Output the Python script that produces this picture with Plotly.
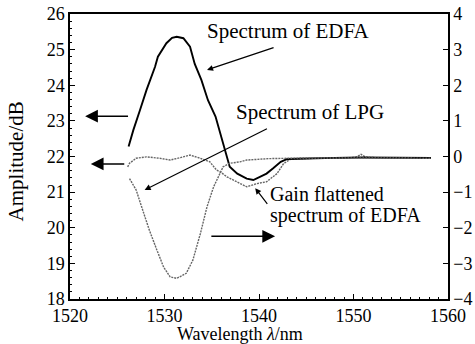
import plotly.graph_objects as go

# ---- data ----
edfa_wl = [1526.2, 1526.7, 1527.4, 1528.1, 1529.0, 1529.3, 1530.2, 1530.8, 1531.3, 1532.0,
           1532.7, 1533.2, 1533.9, 1534.6, 1535.4, 1535.9, 1536.4, 1536.9, 1537.7, 1538.7,
           1539.4, 1540.1, 1540.8, 1541.5, 1542.3, 1543.0, 1545.0, 1548.0, 1550.8, 1553.0,
           1556.0, 1558.2]
edfa_db = [22.28, 22.74, 23.30, 23.87, 24.52, 24.80, 25.18, 25.33, 25.36, 25.32,
           25.08, 24.60, 24.15, 23.58, 23.12, 22.65, 22.15, 21.71, 21.52, 21.38,
           21.34, 21.43, 21.52, 21.67, 21.85, 21.93, 21.95, 21.96, 21.97, 21.97,
           21.97, 21.96]

flat_wl = [1526.1, 1526.3, 1527.0, 1528.1, 1529.5, 1530.6, 1531.7, 1532.7, 1533.8, 1534.8,
           1535.5, 1536.0, 1536.6, 1537.7, 1538.7, 1539.8, 1540.8, 1541.9, 1542.6, 1543.3,
           1546.0, 1549.0, 1550.3, 1550.8, 1551.3, 1553.0, 1556.0, 1558.2]
flat_db = [21.71, 21.81, 21.95, 21.99, 21.95, 21.90, 21.97, 22.04, 21.95, 21.85,
           21.62, 21.55, 21.43, 21.29, 21.15, 21.24, 21.29, 21.52, 21.80, 21.92,
           21.95, 21.95, 21.98, 22.06, 21.98, 21.96, 21.96, 21.95]

lpg_wl = [1526.3, 1527.0, 1527.7, 1528.4, 1529.2, 1529.9, 1530.6, 1531.3, 1532.3, 1533.0,
          1533.8, 1534.5, 1535.2, 1535.9, 1536.2, 1536.9, 1538.0, 1538.7, 1541.0, 1545.0,
          1550.0, 1555.0, 1558.2]
lpg_db = [-0.62, -0.94, -1.51, -2.07, -2.63, -3.10, -3.38, -3.42, -3.28, -2.91,
          -2.16, -1.41, -0.85, -0.48, -0.29, -0.19, -0.15, -0.10, -0.06, -0.04,
          -0.03, -0.04, -0.05]

x_ticks = [1520, 1530, 1540, 1550, 1560]
y_ticks = [18, 19, 20, 21, 22, 23, 24, 25, 26]
y2_ticks = [-4, -3, -2, -1, 0, 1, 2, 3, 4]
y2_labels = ["\u22124", "\u22123", "\u22122", "\u22121", "0", "1", "2", "3", "4"]

FONT = "Liberation Serif"

fig = go.Figure()
fig.add_trace(go.Scatter(x=flat_wl, y=flat_db, mode="lines",
                         line=dict(color="#666666", width=1.4, dash="2px,1px"), yaxis="y"))
fig.add_trace(go.Scatter(x=lpg_wl, y=lpg_db, mode="lines",
                         line=dict(color="#666666", width=1.4, dash="2px,1px"), yaxis="y2"))
fig.add_trace(go.Scatter(x=edfa_wl, y=edfa_db, mode="lines",
                         line=dict(color="black", width=1.9), yaxis="y"))

axis_common = dict(showline=True, linecolor="black", linewidth=1.5, ticks="inside",
                   ticklen=5, tickcolor="black", tickwidth=1.2, showgrid=False,
                   zeroline=False, automargin=False,
                   tickfont=dict(family=FONT, size=18, color="black"))

fig.update_layout(
    width=475, height=344,
    margin=dict(l=70, r=27, t=14, b=45),
    paper_bgcolor="white", plot_bgcolor="white",
    showlegend=False,
    font=dict(family=FONT, color="black"),
    xaxis=dict(range=[1520, 1560], tickvals=x_ticks, mirror=True,
               minor=dict(ticks="inside", ticklen=2, dtick=1, tickcolor="black"),
               **axis_common),
    yaxis=dict(range=[18, 26], tickvals=y_ticks, mirror=False,
               minor=dict(ticks="inside", ticklen=2, dtick=0.2, tickcolor="black"),
               **axis_common),
    yaxis2=dict(range=[-4, 4], tickvals=y2_ticks, ticktext=y2_labels, overlaying="y",
                side="right", **axis_common),
)

ann = []
def arrow(xh, yh, xt, yt, size=1.0, head=2, width=1.2):
    ann.append(dict(x=xh, y=yh, ax=xt, ay=yt, xref="x", yref="y", axref="x", ayref="y",
                    showarrow=True, arrowhead=head, arrowsize=size, arrowwidth=width,
                    arrowcolor="black", standoff=0, startstandoff=0, text=""))

arrow(1534.5, 24.43, 1541.7, 25.07, size=1.0)           # to EDFA curve
arrow(1527.9, 21.06, 1541.0, 22.80, size=1.0)           # to LPG curve
arrow(1539.6, 21.11, 1541.0, 20.63, size=1.0)           # to gain flattened
arrow(1521.6, 23.13, 1526.3, 23.13, size=1.7, width=1.5)  # left arrow 1
arrow(1522.2, 21.79, 1525.9, 21.79, size=1.7, width=1.5)  # left arrow 2
arrow(1541.7, 19.76, 1534.8, 19.76, size=1.7, width=1.5)  # right arrow

def label(text, x, y, size=21, xanchor="left"):
    ann.append(dict(x=x, y=y, xref="x", yref="y", text=text, showarrow=False,
                    xanchor=xanchor, yanchor="middle",
                    font=dict(family=FONT, size=size, color="black")))

label("Spectrum of EDFA", 1534.3, 25.52)
label("Spectrum of LPG", 1537.4, 23.25)
label("Gain flattened", 1541.0, 20.96, size=20)
label("spectrum of EDFA", 1541.0, 20.34, size=20)

ann.append(dict(x=-0.142, y=0.484, xref="paper", yref="paper", text="Amplitude/dB",
                textangle=-90, showarrow=False, xanchor="center", yanchor="middle",
                font=dict(family=FONT, size=21, color="black")))
ann.append(dict(x=0.45, y=-0.123, xref="paper", yref="paper",
                text="Wavelength <i>\u03bb</i>/nm", showarrow=False,
                xanchor="center", yanchor="middle",
                font=dict(family=FONT, size=18, color="black")))
fig.update_layout(annotations=ann)

fig.write_html("out.html")
